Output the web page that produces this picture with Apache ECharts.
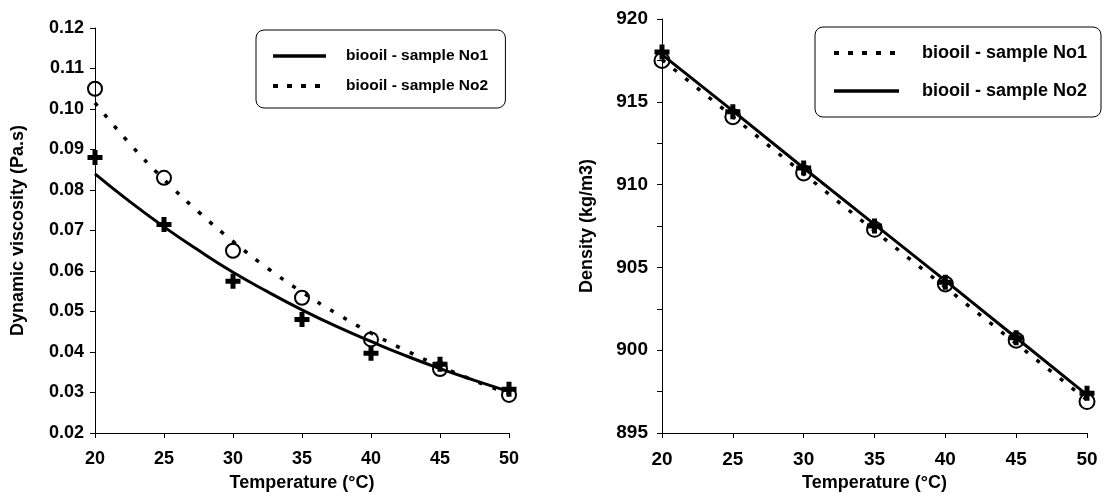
<!DOCTYPE html>
<html>
<head>
<meta charset="utf-8">
<script src="https://cdn.jsdelivr.net/npm/echarts@6/dist/echarts.min.js"></script>
<style>
html,body{margin:0;padding:0;background:#fff;}
#c{width:1108px;height:497px;}
</style>
</head>
<body>
<div id="c"></div>
<script>
// ---- data ----
const temps = [20, 25, 30, 35, 40, 45, 50];
const xTicks = [20, 25, 30, 35, 40, 45, 50];
// Left chart: dynamic viscosity (Pa.s) – measured points
const viscNo1 = [0.088, 0.0715, 0.0575, 0.048, 0.0397, 0.037, 0.0308];
const viscNo2 = [0.105, 0.083, 0.065, 0.0534, 0.0431, 0.0358, 0.0294];
// Left chart: trend curves
const fitTemps = [20, 22.5, 25, 27.5, 30, 32.5, 35, 37.5, 40, 42.5, 45, 47.5, 50];
const viscFitNo1 = [0.084, 0.0772, 0.0709, 0.0651, 0.0597, 0.0549, 0.0504, 0.0463, 0.0426, 0.0391, 0.0359, 0.0330, 0.0302];
const viscFitNo2 = [0.1015, 0.0915, 0.0826, 0.0746, 0.0673, 0.0607, 0.0548, 0.0495, 0.0447, 0.0404, 0.0365, 0.0329, 0.0297];
// Right chart: density (kg/m3) – measured points
const densNo1 = [917.5, 914.1, 910.7, 907.3, 904.0, 900.6, 896.9];
const densNo2 = [918.0, 914.4, 911.0, 907.5, 904.1, 900.75, 897.4];
// Right chart: trend lines
const densFitNo1 = [917.55, 914.1, 910.65, 907.2, 903.8, 900.4, 897.0];
const densFitNo2 = [917.85, 914.45, 911.0, 907.6, 904.2, 900.75, 897.3];

const names = ['biooil - sample No1', 'biooil - sample No2'];

// ---- helpers ----
const FONT = "'Liberation Sans', Arial, sans-serif";
const PLUS = 'path://M4,0 H8 V4 H12 V8 H8 V12 H4 V8 H0 V4 H4 Z';
const pairs = (xs, ys) => xs.map((x, i) => [x, ys[i]]);
const SOLID = { color: '#000', width: 3.5, type: 'solid' };
const DOTS = { color: '#000', width: 4, type: [5, 9], cap: 'butt' };

function xAxisCfg(gridIndex, fs) {
  return {
    gridIndex, type: 'value', min: 20, max: 50, interval: 5,
    name: 'Temperature (°C)', nameLocation: 'middle', nameGap: 41,
    nameTextStyle: { fontFamily: FONT, fontWeight: 'bold', fontSize: 18, color: '#000' },
    axisLine: { lineStyle: { color: '#000', width: 1 } },
    axisTick: { show: true, length: 5, lineStyle: { color: '#000' } },
    axisLabel: { fontFamily: FONT, fontWeight: 'bold', fontSize: fs, color: '#000', margin: 17 },
    splitLine: { show: false }
  };
}

const lineSeriesBase = { symbol: 'none', symbolSize: 0, itemStyle: { color: '#000' } };

const chart = echarts.init(document.getElementById('c'), null, { renderer: 'canvas' });

const legendBase = {
  orient: 'vertical',
  borderColor: '#000', borderWidth: 1, borderRadius: 8, backgroundColor: '#fff',
  itemStyle: { opacity: 0 },
  selectedMode: false
};

const option = {
  animation: false,
  backgroundColor: '#fff',
  grid: [
    { left: 95, top: 28, width: 414, height: 416 },
    { left: 662, top: 19, width: 425, height: 423 }
  ],
  xAxis: [xAxisCfg(0, 18), xAxisCfg(1, 19)],
  yAxis: [
    {
      gridIndex: 0, type: 'value', min: 0.02, max: 0.12, interval: 0.01,
      name: 'Dynamic viscosity (Pa.s)', nameLocation: 'middle', nameGap: 68,
      nameTextStyle: { fontFamily: FONT, fontWeight: 'bold', fontSize: 18, color: '#000' },
      axisLine: { show: true, lineStyle: { color: '#000', width: 1 } },
      axisTick: { show: true, length: 5, lineStyle: { color: '#000' } },
      axisLabel: { fontFamily: FONT, fontWeight: 'bold', fontSize: 18, color: '#000', margin: 11,
        formatter: v => v.toFixed(2) },
      splitLine: { show: false }
    },
    {
      gridIndex: 1, type: 'value', min: 895, max: 920, interval: 2.5,
      name: 'Density (kg/m3)', nameLocation: 'middle', nameGap: 66,
      nameTextStyle: { fontFamily: FONT, fontWeight: 'bold', fontSize: 18, color: '#000' },
      axisLine: { show: true, lineStyle: { color: '#000', width: 1 } },
      axisTick: { show: true, length: 5, lineStyle: { color: '#000' } },
      axisLabel: { fontFamily: FONT, fontWeight: 'bold', fontSize: 19, color: '#000', margin: 14,
        formatter: v => (Math.abs(v % 5) < 1e-9 ? String(v) : '') },
      splitLine: { show: false }
    }
  ],
  legend: [
    Object.assign({}, legendBase, {
      left: 256, top: 30,
      data: [
        { name: names[0] + ' ', lineStyle: SOLID },
        { name: names[1] + ' ', lineStyle: DOTS }
      ],
      itemWidth: 53, itemHeight: 14, itemGap: 14,
      padding: [18, 13, 14, 15],
      textStyle: { fontFamily: FONT, fontWeight: 'bold', fontSize: 15.5, color: '#000', padding: [0, 0, 0, 15] }
    }),
    Object.assign({}, legendBase, {
      left: 815, top: 27,
      data: [
        { name: names[0], lineStyle: DOTS },
        { name: names[1], lineStyle: SOLID }
      ],
      itemWidth: 65, itemHeight: 14, itemGap: 20,
      padding: [17, 14, 17, 17],
      textStyle: { fontFamily: FONT, fontWeight: 'bold', fontSize: 18, color: '#000', padding: [0, 0, 0, 18] }
    })
  ],
  series: [
    // left chart curves
    Object.assign({}, lineSeriesBase, { name: names[0] + ' ', type: 'line', xAxisIndex: 0, yAxisIndex: 0,
      data: pairs(fitTemps, viscFitNo1), smooth: true, lineStyle: { color: '#000', width: 3 }, z: 3 }),
    Object.assign({}, lineSeriesBase, { name: names[1] + ' ', type: 'line', xAxisIndex: 0, yAxisIndex: 0,
      data: pairs(fitTemps, viscFitNo2), smooth: true,
      lineStyle: { color: '#000', width: 3.5, type: [4, 11], cap: 'butt' }, z: 3 }),
    // left chart points
    { type: 'scatter', xAxisIndex: 0, yAxisIndex: 0, data: pairs(temps, viscNo1), symbol: PLUS, symbolSize: 15,
      itemStyle: { color: '#000', opacity: 1 }, z: 4 },
    { type: 'scatter', xAxisIndex: 0, yAxisIndex: 0, data: pairs(temps, viscNo2), symbol: 'circle', symbolSize: 14,
      itemStyle: { color: 'rgba(0,0,0,0)', borderColor: '#000', borderWidth: 2, opacity: 1 }, z: 4 },
    // right chart lines
    Object.assign({}, lineSeriesBase, { name: names[0], type: 'line', xAxisIndex: 1, yAxisIndex: 1,
      data: pairs(temps, densFitNo1), smooth: false,
      lineStyle: { color: '#000', width: 3.5, type: [4, 11], cap: 'butt' }, z: 3 }),
    Object.assign({}, lineSeriesBase, { name: names[1], type: 'line', xAxisIndex: 1, yAxisIndex: 1,
      data: pairs(temps, densFitNo2), smooth: false, lineStyle: { color: '#000', width: 3 }, z: 3 }),
    // right chart points
    { type: 'scatter', xAxisIndex: 1, yAxisIndex: 1, data: pairs(temps, densNo1), symbol: 'circle', symbolSize: 15,
      itemStyle: { color: 'rgba(0,0,0,0)', borderColor: '#000', borderWidth: 2, opacity: 1 }, z: 4 },
    { type: 'scatter', xAxisIndex: 1, yAxisIndex: 1, data: pairs(temps, densNo2), symbol: PLUS, symbolSize: 15,
      itemStyle: { color: '#000', opacity: 1 }, z: 4 }
  ]
};
chart.setOption(option);
</script>
</body>
</html>
